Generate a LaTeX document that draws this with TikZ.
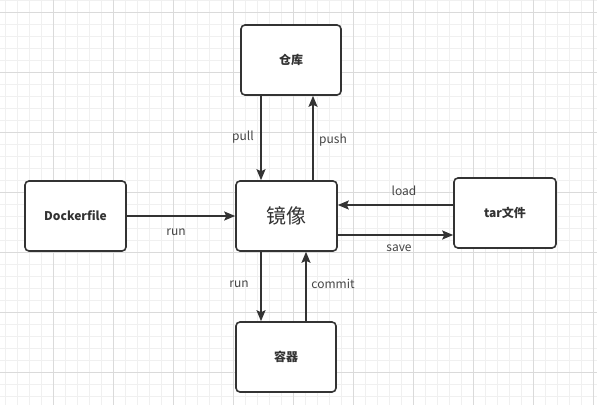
\documentclass[tikz,border=0pt]{standalone}
\usepackage{fontspec}
\setmainfont{Noto Sans CJK SC}
\usetikzlibrary{arrows.meta}

\definecolor{darkline}{HTML}{333333}
\definecolor{labelgray}{HTML}{444444}
\definecolor{minorgrid}{HTML}{F0F0F0}
\definecolor{majorgrid}{HTML}{DADADA}

\begin{document}
\begin{tikzpicture}[x=1pt,y=-1pt,
  box/.style={rectangle, draw=darkline, line width=1.6pt, rounded corners=4pt, fill=white,
    minimum width=100pt, minimum height=70pt, text=darkline,
    font=\fontsize{12}{14}\selectfont\bfseries},
  lbl/.style={font=\fontsize{12}{14}\selectfont, text=labelgray, inner sep=0pt},
  conn/.style={line width=1.6pt, draw=darkline, -{Stealth[length=11pt,width=9pt,inset=2pt]}}]

% background grid
\useasboundingbox (0,0) rectangle (597,405);
\fill[white] (0,0) rectangle (597,405);
\foreach \gx in {5,17,...,597} \draw[minorgrid, line width=0.8pt] (\gx,0) -- (\gx,405);
\foreach \gy in {0,12,...,405} \draw[minorgrid, line width=0.8pt] (0,\gy) -- (597,\gy);
\foreach \gx in {53,113,...,597} \draw[majorgrid, line width=0.8pt] (\gx,0) -- (\gx,405);
\foreach \gy in {12,72,...,405} \draw[majorgrid, line width=0.8pt] (0,\gy) -- (597,\gy);

\node[box] (repo) at (291,60) {仓库};
\node[box, minimum width=101pt] (dockerfile) at (75.5,216) {Dockerfile};
\node[box, minimum width=101pt, font=\fontsize{20}{24}\selectfont] (image) at (286.5,216) {镜像};
\node[box, minimum width=102pt] (tarfile) at (505,213) {tar文件};
\node[box] (container) at (286,357) {容器};

\draw[conn] (repo.south -| 261,0) -- (image.north -| 261,0);
\draw[conn] (image.north -| 313,0) -- (repo.south -| 313,0);
\draw[conn] (dockerfile.east |- 0,216) -- (image.west |- 0,216);
\draw[conn] (tarfile.west |- 0,205) -- (image.east |- 0,205);
\draw[conn] (image.east |- 0,235) -- (tarfile.west |- 0,235);
\draw[conn] (image.south -| 261,0) -- (container.north -| 261,0);
\draw[conn] (container.north -| 306,0) -- (image.south -| 306,0);

\node[lbl] (lpull) at (243,137) {pull};
\node[lbl] (lpush) at (333,140) {push};
\node[lbl] (lbuild) at (176,232) {run};
\node[lbl] (lload) at (404,191) {load};
\node[lbl] (lsave) at (399,248) {save};
\node[lbl] (lrun) at (239,284) {run};
\node[lbl] (lcommit) at (333,284) {commit};
\end{tikzpicture}
\end{document}
